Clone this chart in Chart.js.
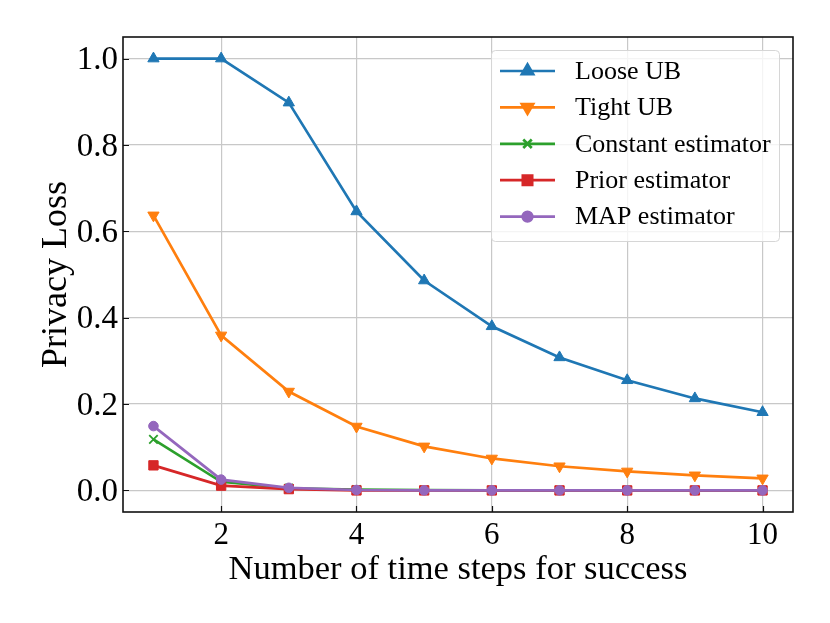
<!DOCTYPE html>
<html>
<head>
    <script src="https://cdn.jsdelivr.net/npm/chart.js"></script>
    <style>
        body { margin: 0; background: white; }
    </style>
</head>
<body>
    <canvas id="chart" width="830" height="623"></canvas>
    <script>
        // values
        const steps = [1, 2, 3, 4, 5, 6, 7, 8, 9, 10];
        const looseUB = [1.0, 1.0, 0.898, 0.646, 0.486, 0.380, 0.308, 0.255, 0.213, 0.181];
        const tightUB = [0.637, 0.359, 0.229, 0.148, 0.102, 0.074, 0.056, 0.044, 0.035, 0.028];
        const constantEst = [0.118, 0.020, 0.005, 0.002, 0.001, 0, 0, 0, 0, 0];
        const priorEst = [0.058, 0.011, 0.003, 0.0, 0, 0, 0, 0, 0, 0];
        const mapEst = [0.149, 0.025, 0.006, 0.001, 0, 0, 0, 0, 0, 0];
        const xTicks = [2, 4, 6, 8, 10];
        const yTicks = [0.0, 0.2, 0.4, 0.6, 0.8, 1.0];

        const FONT = "'Liberation Serif', 'Times New Roman', serif";
        Chart.defaults.font.family = FONT;
        Chart.defaults.color = "#000";

        function series(label, values, color, style, radius, rotation, order) {
            return {
                label: label,
                data: steps.map((s, i) => ({ x: s, y: values[i] })),
                borderColor: color,
                backgroundColor: color,
                borderWidth: 2.7,
                pointStyle: style,
                pointRadius: radius,
                pointRotation: rotation,
                pointBorderWidth: 1,
                pointBackgroundColor: color,
                pointBorderColor: color,
                order: order,
            };
        }

        const datasets = [
            series("Loose UB", looseUB, "#1f77b4", "triangle", 6.5, 0, 5),
            series("Tight UB", tightUB, "#ff7f0e", "triangle", 6.5, 180, 4),
            series("Constant estimator", constantEst, "#2ca02c", "crossRot", 6, 0, 3),
            series("Prior estimator", priorEst, "#d62728", "rect", 6.6, 0, 2),
            series("MAP estimator", mapEst, "#9467bd", "circle", 4.8, 0, 1),
        ];
        datasets[2].pointBorderWidth = 1.8;

        // frame, inward ticks and legend box inside the axes
        const framePlugin = {
            id: "frame",
            afterDraw(chart) {
                const ctx = chart.ctx;
                const a = chart.chartArea;
                const xs = chart.scales.x, ys = chart.scales.y;
                ctx.save();
                ctx.strokeStyle = "#111";
                ctx.lineWidth = 1.2;
                ctx.beginPath();
                for (const v of xTicks) {
                    const px = Math.round(xs.getPixelForValue(v)) + 0.5;
                    ctx.moveTo(px, a.bottom);
                    ctx.lineTo(px, a.bottom - 6);
                }
                for (const v of yTicks) {
                    const py = Math.round(ys.getPixelForValue(v)) + 0.5;
                    ctx.moveTo(a.left, py);
                    ctx.lineTo(a.left + 6, py);
                }
                ctx.stroke();
                ctx.lineWidth = 1.6;
                ctx.strokeRect(a.left, a.top, a.right - a.left, a.bottom - a.top);

                // legend
                const bx = 491, by = 50, bw = 288, bh = 191;
                ctx.beginPath();
                ctx.roundRect(bx + 0.5, by + 0.5, bw, bh, 4);
                ctx.fillStyle = "rgba(255,255,255,0.8)";
                ctx.fill();
                ctx.strokeStyle = "#d6d6d6";
                ctx.lineWidth = 1;
                ctx.stroke();

                ctx.font = "26px " + FONT;
                ctx.textBaseline = "middle";
                ctx.textAlign = "left";
                chart.data.datasets.forEach((ds, i) => {
                    const y = 71 + i * 36.4;
                    ctx.strokeStyle = ds.borderColor;
                    ctx.lineWidth = 2.7;
                    ctx.beginPath();
                    ctx.moveTo(500, y);
                    ctx.lineTo(555, y);
                    ctx.stroke();
                    ctx.fillStyle = ds.borderColor;
                    Chart.helpers.drawPoint(ctx, {
                        pointStyle: ds.pointStyle,
                        rotation: ds.pointRotation,
                        radius: ds.pointRadius,
                        borderWidth: ds.pointBorderWidth,
                    }, 527.5, y);
                    ctx.fillStyle = "#000";
                    ctx.fillText(ds.label, 575, y + 1);
                });
                ctx.restore();
            }
        };

        new Chart(document.getElementById("chart"), {
            type: "line",
            data: { datasets: datasets },
            options: {
                responsive: false,
                animation: false,
                layout: { padding: { left: 0, top: 37, right: 37, bottom: 0 } },
                plugins: {
                    legend: { display: false },
                    tooltip: { enabled: false },
                },
                scales: {
                    x: {
                        type: "linear",
                        min: 0.55,
                        max: 10.45,
                        afterBuildTicks: (s) => { s.ticks = xTicks.map(v => ({ value: v })); },
                        afterFit: (s) => { s.height = 111; },
                        grid: { color: "#c8c8c8", lineWidth: 1.2, drawTicks: false },
                        border: { display: false },
                        ticks: { font: { size: 31 }, padding: 5, maxRotation: 0, callback: (v) => String(v) },
                        title: {
                            display: true,
                            text: "Number of time steps for success",
                            font: { size: 34.5 },
                            padding: { top: 0, bottom: 32 },
                        },
                    },
                    y: {
                        type: "linear",
                        min: -0.05,
                        max: 1.05,
                        afterBuildTicks: (s) => { s.ticks = yTicks.map(v => ({ value: v })); },
                        afterFit: (s) => { s.width = 123; },
                        grid: { color: "#c8c8c8", lineWidth: 1.2, drawTicks: false },
                        border: { display: false },
                        ticks: { font: { size: 33 }, padding: 5, labelOffset: 2, callback: (v) => v.toFixed(1) },
                        title: {
                            display: true,
                            text: "Privacy Loss",
                            font: { size: 36 },
                            padding: { top: 35, bottom: 0 },
                        },
                    },
                },
            },
            plugins: [framePlugin],
        });
    </script>
</body>
</html>
